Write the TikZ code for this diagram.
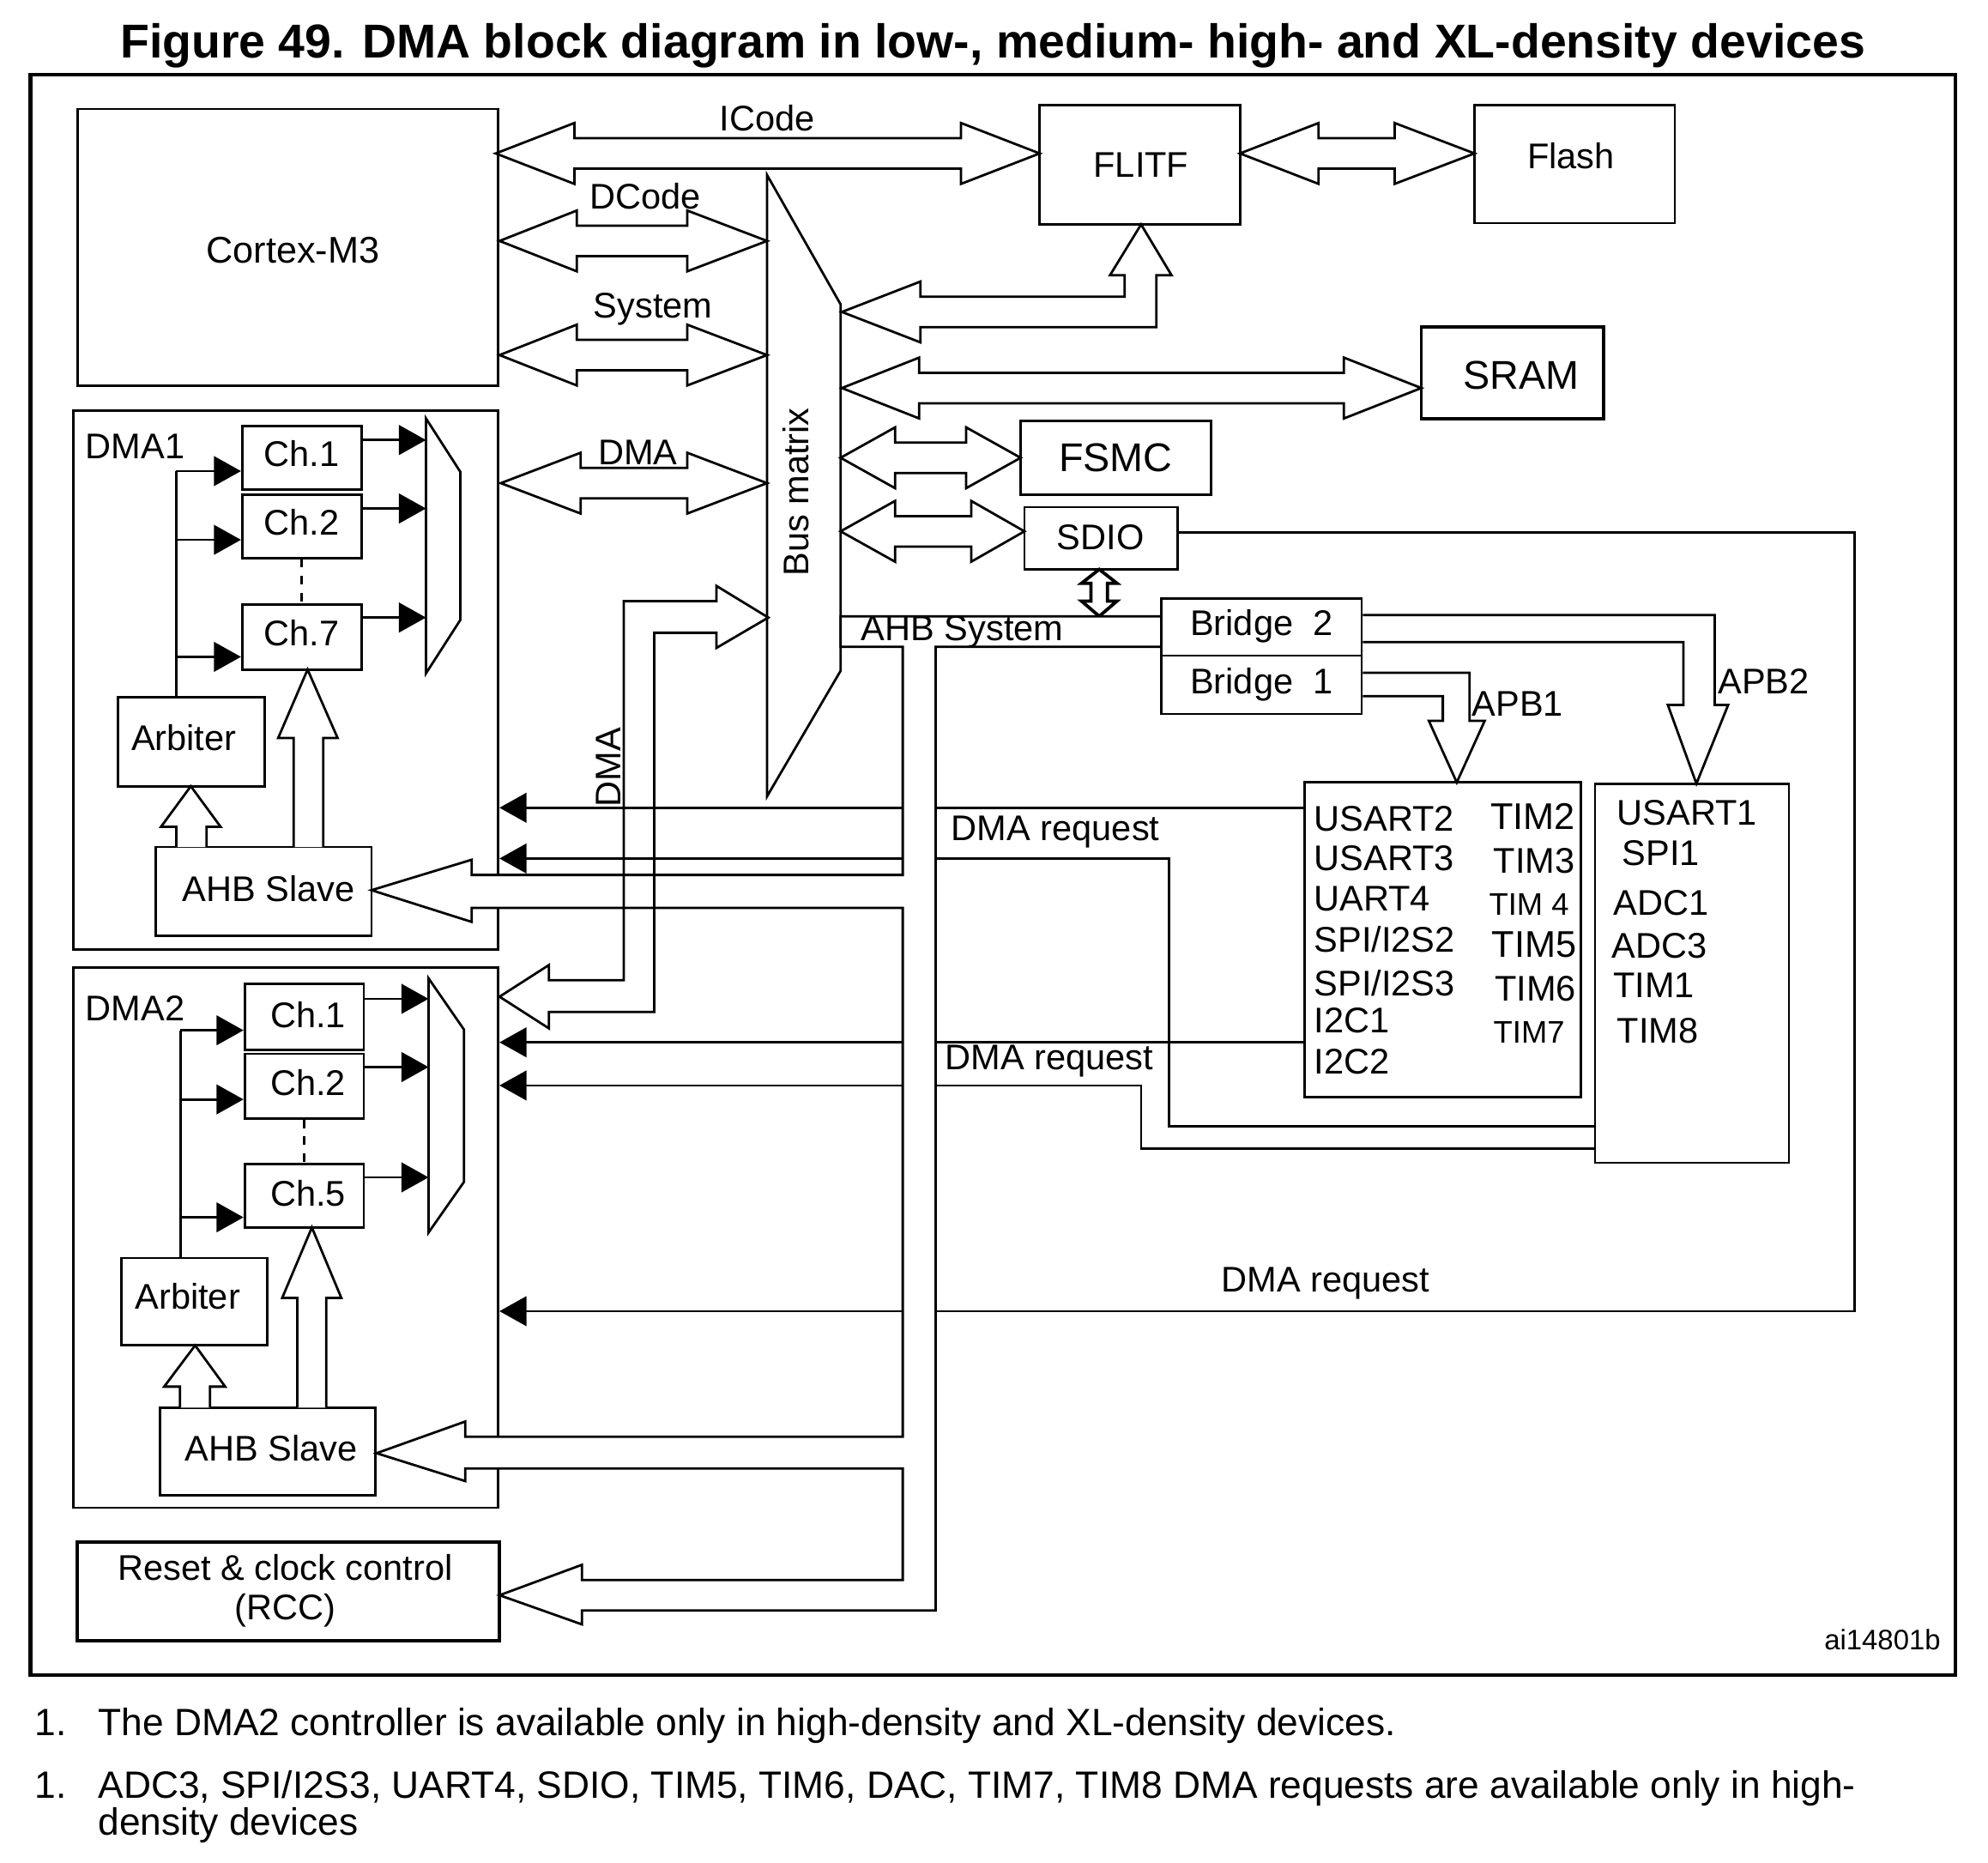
\documentclass[tikz,border=0pt]{standalone}
\usepackage{fontspec}
\setmainfont{Liberation Sans}
\usetikzlibrary{arrows.meta,fit}

\newcommand{\fsz}[1]{\fontsize{#1}{#1}\selectfont}
% box from two corners
\newcommand{\blk}[6][]{\node[box,#1,fit={(#3,#4) (#5,#6)}] (#2) {};}
% hollow double arrow: x1 x2 y head1 head2
\newcommand{\hdarrow}[5]{\draw[fat] (#1,#3) -- ({#1+#4},{#3-24}) -- ({#1+#4},{#3-12}) -- ({#2-#5},{#3-12}) -- ({#2-#5},{#3-24}) -- (#2,#3) -- ({#2-#5},{#3+24}) -- ({#2-#5},{#3+12}) -- ({#1+#4},{#3+12}) -- ({#1+#4},{#3+24}) -- cycle;}

\tikzset{
  box/.style={draw, line width=0.8pt, inner sep=0pt},
  fat/.style={draw, line width=0.8pt, fill=white},
  wire/.style={line width=0.8pt},
  req/.style={line width=0.8pt, -{Triangle[length=0.32cm, width=0.35cm]}},
  lbl/.style={font=\fsz{12}, inner sep=0pt},
}

\begin{document}
\begin{tikzpicture}[x=0.015cm, y=-0.015cm, line join=miter]
\useasboundingbox (0,0) rectangle (1568,1469);

\node[lbl, font=\fsz{16}\bfseries, anchor=base] (title) at (783,46) {Figure 49. DMA block diagram in low-, medium- high- and XL-density devices};
\draw[line width=1.2pt] (24,59) rectangle (1542,1321);

% blocks
\blk{cortex}{61}{86}{393}{304}
\blk{flitf}{820}{83}{978}{177}
\blk{flash}{1163}{83}{1321}{176}
\blk[line width=1.1pt]{sram}{1121}{258}{1265}{330}
\blk{fsmc}{805}{332}{955}{390}
\blk{sdio}{808}{400}{929}{449}
\blk{brtwo}{916}{472}{1074}{517}
\blk{brone}{916}{517}{1074}{563}
\blk{apbone}{1029}{617}{1247}{865}
\blk{apbtwo}{1258}{618}{1411}{917}
\blk{dmaone}{58}{324}{393}{749}
\blk{dmatwo}{58}{763}{393}{1189}
\blk[line width=1.1pt]{rcc}{61}{1216}{394}{1294}

\draw[wire] (605,138) -- (663,240) -- (663,529) -- (605,628) -- cycle;
\node[lbl, rotate=90] (busmx) at (628,388) {Bus matrix};

% DMA1
\blk{chaa}{191}{336}{285}{386}
\blk{chab}{191}{390}{285}{440}
\blk{chag}{191}{477}{285}{528}
\blk{arba}{93}{550}{209}{620}
\blk{slva}{123}{668}{293}{738}
\draw[wire] (336,330) -- (363,372) -- (363,489) -- (336,531) -- cycle;
\foreach \y in {347,401,487} \draw[req] (chaa.east |- 0,\y) -- (336,\y);
\draw[wire] (139,0 |- arba.north) -- (139,371.5);
\foreach \y in {371.5,425.7,518} \draw[req] (139,\y) -- (chaa.west |- 0,\y);
\draw[wire, dash pattern=on 0.1cm off 0.1cm] (chab.south) -- (chag.north);
\draw[fat] (139,668) -- (139,652) -- (127,652) -- (150.5,620) -- (174,652) -- (163,652) -- (163,668);
\draw[fat] (231.6,668) -- (231.6,582) -- (219.4,582) -- (242.6,528) -- (266.3,582) -- (255,582) -- (255,668);

% DMA2
\blk{chba}{193}{776}{287}{828}
\blk{chbb}{193}{831}{287}{882}
\blk{chbe}{193}{918}{287}{968}
\blk{arbb}{96}{992}{211}{1061}
\blk{slvb}{126}{1110}{296}{1179}
\draw[wire] (338,771.5) -- (366,812) -- (366,932) -- (338,972) -- cycle;
\foreach \y in {787.7,841.5,928.5} \draw[req] (chba.east |- 0,\y) -- (338,\y);
\draw[wire] (142.4,0 |- arbb.north) -- (142.4,812.5);
\foreach \y in {812.5,867,960} \draw[req] (142.4,\y) -- (chba.west |- 0,\y);
\draw[wire, dash pattern=on 0.1cm off 0.1cm] (chbb.south) -- (chbe.north);
\draw[fat] (142,1110) -- (142,1093.5) -- (129.5,1093.5) -- (153.9,1061) -- (177.6,1093.5) -- (165.7,1093.5) -- (165.7,1110);
\draw[fat] (234.5,1110) -- (234.5,1023.5) -- (222.6,1023.5) -- (246,968) -- (269.2,1023.5) -- (257.3,1023.5) -- (257.3,1110);

% buses
\hdarrow{391}{820}{121}{62}{62}
\hdarrow{978}{1163}{121}{62}{63}
\hdarrow{394}{605}{190}{61}{63}
\hdarrow{394}{605}{280}{61}{63}
\hdarrow{395}{605}{381}{63}{63}
\hdarrow{664}{1121}{306}{61}{61}
\hdarrow{663}{805}{361}{43}{43}
\hdarrow{663}{808}{419}{43}{42}
\draw[fat] (664,246) -- (726,222) -- (726,234) -- (887,234) -- (887,217) -- (875.5,217) -- (900,177) -- (924,217) -- (912,217) -- (912,258) -- (726,258) -- (726,270) -- cycle;
\draw[fat, line width=1.1pt] (867,449) -- (881,460) -- (873.5,460) -- (873.5,474) -- (881,474) -- (867,486) -- (853,474) -- (860.5,474) -- (860.5,460) -- (853,460) -- cycle;

% AHB system
\draw[fat] (663,486) -- (916,486) -- (916,510) -- (738,510) -- (738,1270) -- (459,1270) -- (459,1281) -- (394,1258) -- (459,1234) -- (459,1246) -- (712,1246) -- (712,1158) -- (367,1158) -- (367,1168) -- (297,1146) -- (367,1121) -- (367,1133) -- (712,1133) -- (712,716) -- (372,716) -- (372,727) -- (293,702) -- (372,678) -- (372,690) -- (712,690) -- (712,510) -- (663,510) -- cycle;
\draw[wire] (606,487) -- (565,462) -- (565,474) -- (492,474) -- (492,773) -- (433,773) -- (433,761) -- (394,786) -- (433,811) -- (433,798) -- (516,798) -- (516,499) -- (565,499) -- (565,511) -- cycle;

\draw[fat] (brone.east |- 0,530.5) -- (1159,530.5) -- (1159,568.5) -- (1171,568.5) -- (1149,617) -- (1127,568.5) -- (1138,568.5) -- (1138,549) -- (brone.east |- 0,549);
\draw[fat] (brtwo.east |- 0,485) -- (1352.5,485) -- (1352.5,556) -- (1363,556) -- (1338,618) -- (1315.5,556) -- (1327.7,556) -- (1327.7,506.4) -- (brtwo.east |- 0,506.4);

% DMA requests
\draw[req] (712,637) -- (dmaone.east |- 0,637);
\draw[req] (712,677) -- (dmaone.east |- 0,677);
\draw[req] (712,822) -- (dmatwo.east |- 0,822);
\draw[req] (712,856) -- (dmatwo.east |- 0,856);
\draw[req] (712,1034) -- (dmatwo.east |- 0,1034);
\draw[wire] (738,637) -- (apbone.west |- 0,637);
\draw[wire] (738,677) -- (922,677) -- (922,888) -- (apbtwo.west |- 0,888);
\draw[wire] (738,822) -- (apbone.west |- 0,822);
\draw[wire] (738,856) -- (900,856) -- (900,906) -- (apbtwo.west |- 0,906);
\draw[wire] (sdio.east |- 0,420) -- (1463,420) -- (1463,1034) -- (738,1034);

% labels
\node[lbl, font=\fsz{12.5}] at (231,197) {Cortex-M3};
\node[lbl] at (605,93) {ICode};
\node[lbl] at (509,155) {DCode};
\node[lbl] at (515,244) {System};
\node[lbl] at (503,357) {DMA};
\node[lbl, rotate=90] at (480,605) {DMA};
\node[lbl] at (900,130) {FLITF};
\node[lbl] at (1239,123) {Flash};
\node[lbl, font=\fsz{13.5}] at (1200,296) {SRAM};
\node[lbl, font=\fsz{13.5}] at (880,361) {FSMC};
\node[lbl] at (868,424) {SDIO};
\node[lbl] at (759,498) {AHB System};
\node[lbl] at (995,494) {Bridge~~2};
\node[lbl] at (995,540) {Bridge~~1};
\node[lbl] at (1197,555) {APB1};
\node[lbl] at (1391,537) {APB2};
\node[lbl, anchor=west] at (750,656) {DMA request};
\node[lbl, anchor=west] at (745,837) {DMA request};
\node[lbl, anchor=west] at (963,1012) {DMA request};

\node[lbl, anchor=west] at (67,352) {DMA1};
\node[lbl] at (238,358) {Ch.1};
\node[lbl] at (238,412) {Ch.2};
\node[lbl] at (238,499) {Ch.7};
\node[lbl] at (145,582) {Arbiter};
\node[lbl] at (212,701) {AHB Slave};
\node[lbl, anchor=west] at (67,795) {DMA2};
\node[lbl] at (243,800) {Ch.1};
\node[lbl] at (243,854) {Ch.2};
\node[lbl] at (243,941) {Ch.5};
\node[lbl] at (148,1022) {Arbiter};
\node[lbl] at (214,1142) {AHB Slave};
\node[lbl] at (225,1236) {Reset \& clock control};
\node[lbl] at (225,1270) {(RCC)};

\foreach \t/\y in {USART2/646,USART3/677,UART4/709,{SPI/I2S2}/741,{SPI/I2S3}/775,I2C1/805,I2C2/837}
  \node[lbl, anchor=west] at (1036,\y) {\t};
\node[lbl, font=\fsz{12.5}] at (1209,644) {TIM2};
\node[lbl] at (1210,679) {TIM3};
\node[lbl, font=\fsz{10.5}] at (1206,713) {TIM 4};
\node[lbl, font=\fsz{12.5}] at (1210,745) {TIM5};
\node[lbl] at (1211,780) {TIM6};
\node[lbl, font=\fsz{10.5}] at (1206,814) {TIM7};
\foreach \t/\x/\y in {USART1/1275/641,SPI1/1279/673,ADC1/1272/712,ADC3/1271/746,TIM1/1272/777,TIM8/1275/813}
  \node[lbl, anchor=west] at (\x,\y) {\t};

\node[lbl, font=\fsz{9.5}, anchor=east] at (1531,1293) {ai14801b};

% notes
\node[lbl, font=\fsz{12.8}, anchor=base west] at (27,1369) {1.};
\node[lbl, font=\fsz{12.8}, anchor=base west] at (77,1369) {The DMA2 controller is available only in high-density and XL-density devices.};
\node[lbl, font=\fsz{12.8}, anchor=base west] at (27,1418) {1.};
\node[lbl, font=\fsz{12.8}, anchor=base west] at (77,1418) {ADC3, SPI/I2S3, UART4, SDIO, TIM5, TIM6, DAC, TIM7, TIM8 DMA requests are available only in high-};
\node[lbl, font=\fsz{12.8}, anchor=base west] at (77,1447) {density devices};
\end{tikzpicture}
\end{document}
